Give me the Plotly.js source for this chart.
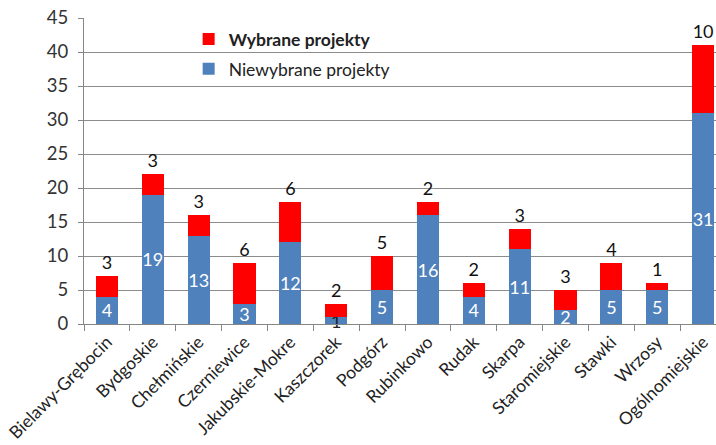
<!DOCTYPE html>
<html>
<head>
<meta charset="utf-8">
<script src="https://cdn.plot.ly/plotly-3.0.1.min.js"></script>
<style>
html,body{margin:0;padding:0;overflow:hidden;background:#fff;}
#chart{width:726px;height:445px;}
</style>
</head>
<body>
<div id="chart"></div>
<script>
var categories = ["Bielawy-Grębocin","Bydgoskie","Chełmińskie","Czerniewice","Jakubskie-Mokre","Kaszczorek","Podgórz","Rubinkowo","Rudak","Skarpa","Staromiejskie","Stawki","Wrzosy","Ogólnomiejskie"];
var niewybrane = [4,19,13,3,12,1,5,16,4,11,2,5,5,31];
var wybrane = [3,3,3,6,6,2,5,2,2,3,3,4,1,10];
var yTicks = [0,5,10,15,20,25,30,35,40,45];

var FONT = "Lato, 'Noto Sans', sans-serif";

var blueText = niewybrane.map(function(v){ return v < 2 ? '#222222' : '#ffffff'; });

var traceBlue = {
  type: 'bar',
  name: 'Niewybrane projekty',
  legendgroup: 'b',
  legendrank: 2,
  x: categories,
  y: niewybrane,
  marker: {color: '#4F81BD'},
  text: niewybrane.map(String),
  textposition: 'inside',
  insidetextanchor: 'middle',
  textangle: 0,
  constraintext: 'none',
  cliponaxis: false,
  textfont: {family: FONT, size: 18, color: blueText},
  hoverinfo: 'none'
};
var traceRed = {
  type: 'bar',
  name: '<b>Wybrane projekty</b>',
  legendgroup: 'a',
  legendrank: 1,
  x: categories,
  y: wybrane,
  marker: {color: '#FF0000'},
  text: wybrane.map(String),
  textposition: 'outside',
  textangle: 0,
  constraintext: 'none',
  cliponaxis: false,
  textfont: {family: FONT, size: 18, color: '#111111'},
  hoverinfo: 'none'
};

var layout = {
  width: 726,
  height: 445,
  margin: {l: 84, r: 0, t: 18, b: 121},
  barmode: 'stack',
  bargap: 0.52,
  paper_bgcolor: '#ffffff',
  plot_bgcolor: '#ffffff',
  font: {family: FONT, size: 17, color: '#333333'},
  showlegend: true,
  legend: {
    x: 0.163, y: 0.99, xanchor: 'left', yanchor: 'top',
    traceorder: 'grouped',
    font: {family: FONT, size: 17.5, color: '#222222'},
    bgcolor: 'rgba(0,0,0,0)',
    itemwidth: 30,
    tracegroupgap: 4
  },
  xaxis: {
    type: 'category',
    tickangle: -45,
    tickson: 'boundaries',
    ticks: 'outside',
    ticklen: 6,
    tickcolor: '#868686',
    showline: true,
    linecolor: '#868686',
    linewidth: 1,
    showgrid: false,
    tickfont: {family: FONT, size: 17.5, color: '#222222'},
    fixedrange: true
  },
  yaxis: {
    range: [0, 45],
    tickvals: yTicks,
    ticktext: yTicks.map(String),
    ticks: 'outside',
    ticklen: 5,
    tickcolor: '#868686',
    showline: true,
    linecolor: '#868686',
    linewidth: 1,
    showgrid: true,
    gridcolor: '#8c8c8c',
    gridwidth: 1,
    zeroline: false,
    tickfont: {family: FONT, size: 18.5, color: '#333333'},
    ticklabelstandoff: 6,
    fixedrange: true
  }
};

Plotly.newPlot('chart', [traceBlue, traceRed], layout, {displayModeBar: false, staticPlot: true});
</script>
</body>
</html>
